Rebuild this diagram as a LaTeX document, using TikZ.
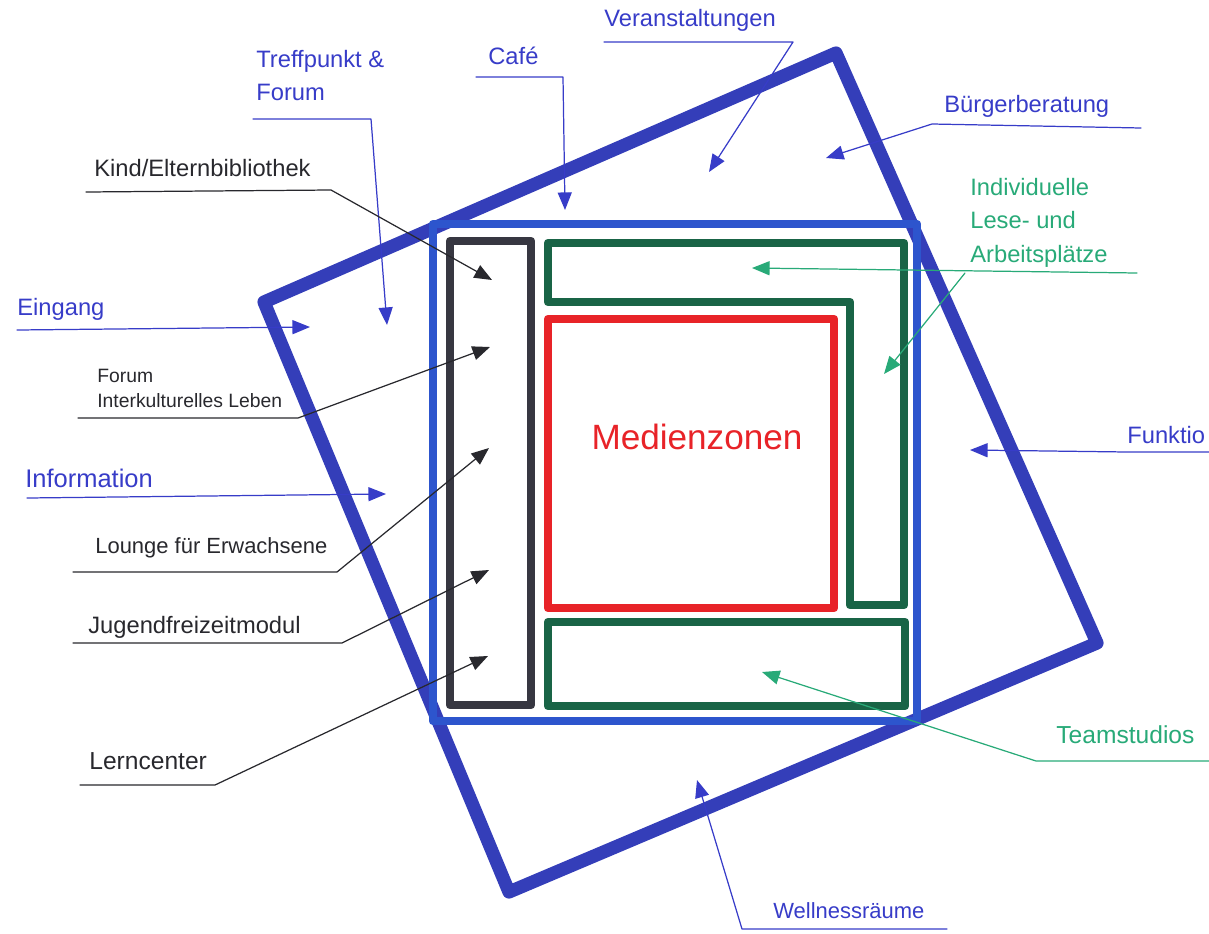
\documentclass[tikz,border=0pt]{standalone}
\usepackage{fontspec}
\setmainfont{Liberation Sans}
\usetikzlibrary{arrows.meta,positioning}
\definecolor{planblue}{RGB}{52,62,185}
\definecolor{innerblue}{RGB}{45,85,205}
\definecolor{zoneblack}{RGB}{55,55,65}
\definecolor{zonegreen}{RGB}{25,100,70}
\definecolor{mediared}{RGB}{232,35,40}
\definecolor{labelblue}{RGB}{55,60,200}
\definecolor{labelgreen}{RGB}{40,170,120}
\definecolor{labelblack}{RGB}{40,40,45}

\begin{document}
\begin{tikzpicture}[x=0.02cm, y=-0.02cm, >={Triangle[length=10pt,width=8pt]}, line cap=round, line join=round]
    \tikzstyle{wall} = [line width=7.5pt]
    \tikzstyle{zone} = [line width=5pt]
    \tikzstyle{lbl} = [anchor=north west, inner sep=0pt, align=left, font=\fontsize{13.5}{19}\selectfont]
    \tikzstyle{leader} = [line width=0.7pt]

    \useasboundingbox (0,0) rectangle (1209,933);
    \clip (0,0) rectangle (1209,933);

    % building outline (rotated) and inner frame
    \draw[wall, planblue] (264,302) -- (836,53) -- (1097,643) -- (509,892) -- cycle;
    \draw[zone, innerblue] (433,224) rectangle (917,721);

    % zones
    \draw[zone, zoneblack] (450,241) rectangle (531,705);
    \draw[zone, zonegreen] (548,243) -- (904,243) -- (904,605) -- (850,605) -- (850,302) -- (548,302) -- cycle;
    \draw[zone, mediared] (548,319) rectangle (834,608);
    \draw[zone, zonegreen] (548,622) rectangle (905,706);
    \node[mediared, font=\fontsize{20}{24}\selectfont] (medien) at (697,437) {Medienzonen};

    % labels
    \node[lbl, labelblue] (treff) at (256,50) {Treffpunkt \&\\Forum};
    \node[lbl, labelblue] (cafe) at (488,47) {Café};
    \node[lbl, labelblue] (veran) at (604,9) {Veranstaltungen};
    \node[lbl, labelblue] (buerger) at (944,95) {Bürgerberatung};
    \node[lbl, labelgreen] (indiv) at (970,178) {Individuelle\\Lese- und\\Arbeitsplätze};
    \node[lbl, labelblack] (kind) at (94,159) {Kind/Elternbibliothek};
    \node[lbl, labelblue] (eingang) at (17,298) {Eingang};
    \node[lbl, labelblack, font=\fontsize{11}{14}\selectfont] (forum) at (97,369) {Forum\\Interkulturelles Leben};
    \node[lbl, labelblue, font=\fontsize{14.5}{19}\selectfont] (info) at (25,469) {Information};
    \node[lbl, labelblack, font=\fontsize{12.5}{19}\selectfont] (lounge) at (95,537) {Lounge für Erwachsene};
    \node[lbl, labelblack] (jugend) at (88,616) {Jugendfreizeitmodul};
    \node[lbl, labelblue] (funk) at (1127,426) {Funktio};
    \node[lbl, labelgreen, font=\fontsize{14}{19}\selectfont] (team) at (1056,725) {Teamstudios};
    \node[lbl, labelblack, font=\fontsize{14}{19}\selectfont] (lern) at (89,752) {Lerncenter};
    \node[lbl, labelblue, font=\fontsize{12.5}{19}\selectfont] (well) at (773,902) {Wellnessräume};

    % leader points
    \coordinate (treffA) at (253,119);  \coordinate (treffB) at (371,119);  \coordinate (treffT) at (387,325);
    \coordinate (cafeA) at (476,77);    \coordinate (cafeB) at (563,77);    \coordinate (cafeT) at (565,210);
    \coordinate (veranA) at (604,42);   \coordinate (veranB) at (793,42);   \coordinate (veranT) at (709,172);
    \coordinate (buergerA) at (1141,128); \coordinate (buergerB) at (932,124); \coordinate (buergerT) at (826,158);
    \coordinate (indivA) at (1137,273); \coordinate (indivB) at (965,273);  \coordinate (indivT) at (752,268);
    \coordinate (indivU) at (884,374);
    \coordinate (kindA) at (86,192);    \coordinate (kindB) at (331,190);   \coordinate (kindT) at (492,280);
    \coordinate (eingangA) at (17,330); \coordinate (eingangT) at (310,327);
    \coordinate (forumA) at (78,418);   \coordinate (forumB) at (298,418);  \coordinate (forumT) at (490,347);
    \coordinate (infoA) at (27,498);    \coordinate (infoT) at (386,494);
    \coordinate (loungeA) at (73,572);  \coordinate (loungeB) at (337,572); \coordinate (loungeT) at (489,448);
    \coordinate (jugendA) at (73,643);  \coordinate (jugendB) at (342,643); \coordinate (jugendT) at (489,570);
    \coordinate (lernA) at (80,785);    \coordinate (lernB) at (215,785);   \coordinate (lernT) at (488,656);
    \coordinate (funkA) at (1209,452);  \coordinate (funkB) at (1127,452);  \coordinate (funkT) at (970,450);
    \coordinate (teamA) at (1209,761);  \coordinate (teamB) at (1036,761);  \coordinate (teamT) at (762,672);
    \coordinate (wellA) at (947,929);   \coordinate (wellB) at (742,929);   \coordinate (wellT) at (697,780);

    % leaders
    \draw[leader, labelblue, ->] (treffA) -- (treffB) -- (treffT);
    \draw[leader, labelblue, ->] (cafeA) -- (cafeB) -- (cafeT);
    \draw[leader, labelblue, ->] (veranA) -- (veranB) -- (veranT);
    \draw[leader, labelblue, ->] (buergerA) -- (buergerB) -- (buergerT);
    \draw[leader, labelgreen, ->] (indivA) -- (indivT);
    \draw[leader, labelgreen, ->] (indivB) -- (indivU);
    \draw[leader, labelblack, ->] (kindA) -- (kindB) -- (kindT);
    \draw[leader, labelblue, ->] (eingangA) -- (eingangT);
    \draw[leader, labelblack, ->] (forumA) -- (forumB) -- (forumT);
    \draw[leader, labelblue, ->] (infoA) -- (infoT);
    \draw[leader, labelblack, ->] (loungeA) -- (loungeB) -- (loungeT);
    \draw[leader, labelblack, ->] (jugendA) -- (jugendB) -- (jugendT);
    \draw[leader, labelblack, ->] (lernA) -- (lernB) -- (lernT);
    \draw[leader, labelblue, ->] (funkA) -- (funkB) -- (funkT);
    \draw[leader, labelgreen, ->] (teamA) -- (teamB) -- (teamT);
    \draw[leader, labelblue, ->] (wellA) -- (wellB) -- (wellT);
\end{tikzpicture}
\end{document}
